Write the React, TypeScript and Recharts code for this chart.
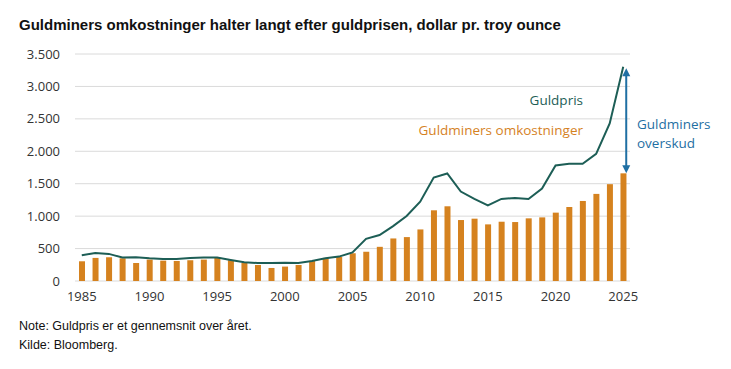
import React from 'react';
import {
  ComposedChart,
  Bar,
  Line,
  XAxis,
  YAxis,
  CartesianGrid,
  ReferenceLine,
} from 'recharts';

const years = [
  1985, 1986, 1987, 1988, 1989, 1990, 1991, 1992, 1993, 1994,
  1995, 1996, 1997, 1998, 1999, 2000, 2001, 2002, 2003, 2004,
  2005, 2006, 2007, 2008, 2009, 2010, 2011, 2012, 2013, 2014,
  2015, 2016, 2017, 2018, 2019, 2020, 2021, 2022, 2023, 2024, 2025,
];

const minerCosts = [
  304, 356, 366, 350, 278, 330, 314, 309, 320, 330,
  356, 320, 278, 247, 201, 222, 247, 309, 356, 371,
  428, 451, 527, 656, 677, 795, 1090, 1152, 940, 961,
  873, 914, 909, 966, 981, 1054, 1141, 1234, 1343, 1493, 1660,
];

const goldPrice = [
  397, 433, 418, 361, 366, 350, 340, 340, 356, 361,
  361, 325, 289, 278, 278, 283, 278, 309, 350, 376,
  440, 650, 708, 847, 1002, 1224, 1596, 1658, 1379, 1265,
  1167, 1265, 1281, 1265, 1426, 1782, 1808, 1808, 1960, 2430, 3305,
];

const yTicks = [0, 500, 1000, 1500, 2000, 2500, 3000, 3500];

const arrowTop = 3280;
const arrowBottom = 1660;

const chartData = years.map((year, i) => ({
  year,
  cost: minerCosts[i],
  gold: goldPrice[i],
}));

const thousands = (v: number) => v.toLocaleString('da-DK');

const ARROW = '#1f6fa3';

const DoubleArrow = (props: any) => {
  const x = props.x1 + 3;
  const yTop = Math.min(props.y1, props.y2);
  const yBot = Math.max(props.y1, props.y2);
  return (
    <g>
      <line x1={x} x2={x} y1={yTop + 6} y2={yBot - 6} stroke={ARROW} strokeWidth={2} />
      <polygon points={`${x},${yTop} ${x - 4},${yTop + 8} ${x + 4},${yTop + 8}`} fill={ARROW} />
      <polygon points={`${x},${yBot} ${x - 4},${yBot - 8} ${x + 4},${yBot - 8}`} fill={ARROW} />
    </g>
  );
};

const labelFont = '"Open Sans", sans-serif';

const App = () => {
  return (
    <div style={{ position: 'relative', width: 731, height: 369, background: '#fff' }}>
      <style>{'body{margin:0}'}</style>
      <div
        style={{
          position: 'absolute',
          left: 19,
          top: 16,
          fontFamily: '"Liberation Sans", Arial, sans-serif',
          fontWeight: 'bold',
          fontSize: 15,
          color: '#111',
          whiteSpace: 'nowrap',
        }}
      >
        Guldminers omkostninger halter langt efter guldprisen, dollar pr. troy ounce
      </div>
      <ComposedChart
        width={731}
        height={369}
        data={chartData}
        margin={{ top: 54, right: 101, bottom: 58, left: 15 }}
      >
        <CartesianGrid vertical={false} stroke="#dadada" />
        <XAxis
          dataKey="year"
          interval={4}
          axisLine={false}
          tickLine={false}
          tickSize={0}
          tickMargin={11}
          height={30}
          tick={{ fill: '#333', fontSize: 13, fontFamily: labelFont }}
        />
        <YAxis
          domain={[0, 3500]}
          ticks={yTicks}
          tickFormatter={thousands}
          axisLine={false}
          tickLine={false}
          tickSize={0}
          tickMargin={15}
          width={60}
          tick={{ fill: '#333', fontSize: 13, fontFamily: labelFont }}
        />
        <Bar dataKey="cost" fill="#d5821f" barSize={6} isAnimationActive={false} />
        <Line
          dataKey="gold"
          type="linear"
          stroke="#1d5e56"
          strokeWidth={2}
          dot={false}
          isAnimationActive={false}
        />
        <ReferenceLine
          segment={[
            { x: 2025, y: arrowTop },
            { x: 2025, y: arrowBottom },
          ]}
          shape={<DoubleArrow />}
        />
      </ComposedChart>
      <div
        style={{
          position: 'absolute',
          right: 731 - 583,
          top: 91,
          fontFamily: labelFont,
          fontSize: 13.5,
          color: '#1d5e56',
          whiteSpace: 'nowrap',
        }}
      >
        Guldpris
      </div>
      <div
        style={{
          position: 'absolute',
          right: 731 - 583,
          top: 121,
          fontFamily: labelFont,
          fontSize: 13.5,
          color: '#d5821f',
          whiteSpace: 'nowrap',
        }}
      >
        Guldminers omkostninger
      </div>
      <div
        style={{
          position: 'absolute',
          left: 637,
          top: 115,
          fontFamily: labelFont,
          fontSize: 13.5,
          lineHeight: '19px',
          color: ARROW,
        }}
      >
        Guldminers
        <br />
        overskud
      </div>
      <div
        style={{
          position: 'absolute',
          left: 19,
          top: 317,
          fontFamily: '"Liberation Sans", Arial, sans-serif',
          fontSize: 12.5,
          lineHeight: '19px',
          color: '#111',
        }}
      >
        Note: Guldpris er et gennemsnit over året.
        <br />
        Kilde: Bloomberg.
      </div>
    </div>
  );
};

export default App;
